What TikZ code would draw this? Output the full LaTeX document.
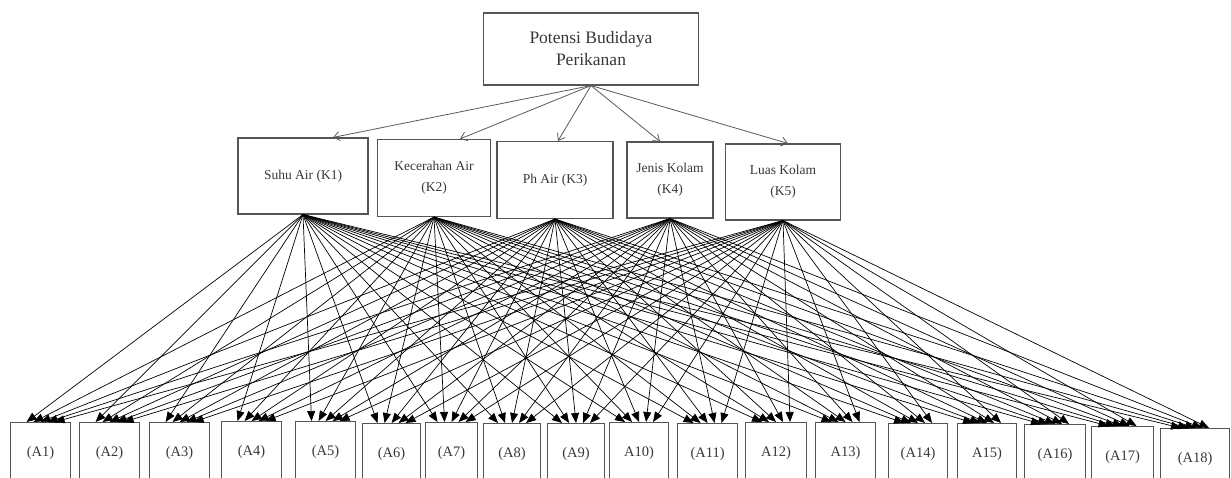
\documentclass[tikz,border=0pt]{standalone}
\usepackage{fontspec}
\setmainfont{Liberation Serif}
\usetikzlibrary{arrows.meta}
\definecolor{boxline}{RGB}{85,85,85}
\definecolor{labeltext}{RGB}{55,55,55}
\tikzset{
  goalbox/.style={draw=boxline, line width=1.1pt, minimum width=215pt, minimum height=72pt, inner sep=0pt, align=center, text=labeltext, font=\fontsize{17.5}{22}\selectfont},
  kritbox/.style={draw=boxline, line width=1.1pt, inner sep=0pt, align=center, text=labeltext, font=\fontsize{13.5}{21}\selectfont},
  altbox/.style={draw=boxline, line width=1.1pt, inner sep=0pt, anchor=north west, minimum height=60pt, text=labeltext, font=\fontsize{14.5}{16}\selectfont},
  toparrow/.style={-{Straight Barb[length=6pt,width=9pt]}, draw=black!65, line width=0.8pt},
  subarrow/.style={-{Triangle[length=10pt,width=8pt]}, line width=0.7pt},
}
\begin{document}
\begin{tikzpicture}[x=1pt, y=-1pt]
\clip (0,0) rectangle (1231,477);

% Goal
\node[goalbox] (goal) at (591,49) {Potensi Budidaya\\Perikanan};

% Criteria
\node[kritbox, minimum width=130pt, minimum height=76pt] (k1) at (303,176) {Suhu Air (K1)};
\node[kritbox, minimum width=113pt, minimum height=77pt] (k2) at (434,178) {Kecerahan Air\\(K2)};
\node[kritbox, minimum width=116pt, minimum height=77pt] (k3) at (555,180) {Ph Air (K3)};
\node[kritbox, minimum width=86pt, minimum height=76pt] (k4) at (670,180) {Jenis Kolam\\(K4)};
\node[kritbox, minimum width=115pt, minimum height=76pt] (k5) at (783,182) {Luas Kolam\\(K5)};

% Alternatives
\foreach \n/\x/\t/\w/\txt in {1/10/422/60/(A1), 2/79/422/60/(A2), 3/149/422/60/(A3),
  4/221/421/60/(A4), 5/295/421/60/(A5), 6/362/423/58/(A6), 7/425/422/52/(A7),
  8/483/423/57/(A8), 9/547/423/57/(A9), 10/609/422/59/A10), 11/677/423/60/(A11),
  12/745/422/61/A12), 13/815/422/60/A13), 14/888/423/59/(A14), 15/957/423/59/A15),
  16/1024/424/61/(A16), 17/1091/426/62/(A17), 18/1160/428/69/(A18)}
  \node[altbox, minimum width=\w pt] (a\n) at (\x,\t) {\txt};

% Goal to criteria
\draw[toparrow] (goal.south) -- ([xshift=30pt]k1.north);
\draw[toparrow] (goal.south) -- ([xshift=26pt]k2.north);
\draw[toparrow] (goal.south) -- ([xshift=3pt]k3.north);
\draw[toparrow] (goal.south) -- ([xshift=-10pt]k4.north);
\draw[toparrow] (goal.south) -- ([xshift=5pt]k5.north);

% Criteria to alternatives
\foreach \k [evaluate=\k as \s using (\k-3)*7] in {1,...,5}
  \foreach \a in {1,...,18}
    \draw[subarrow] (k\k.south) -- ([xshift=\s pt]a\a.north);
\end{tikzpicture}
\end{document}
